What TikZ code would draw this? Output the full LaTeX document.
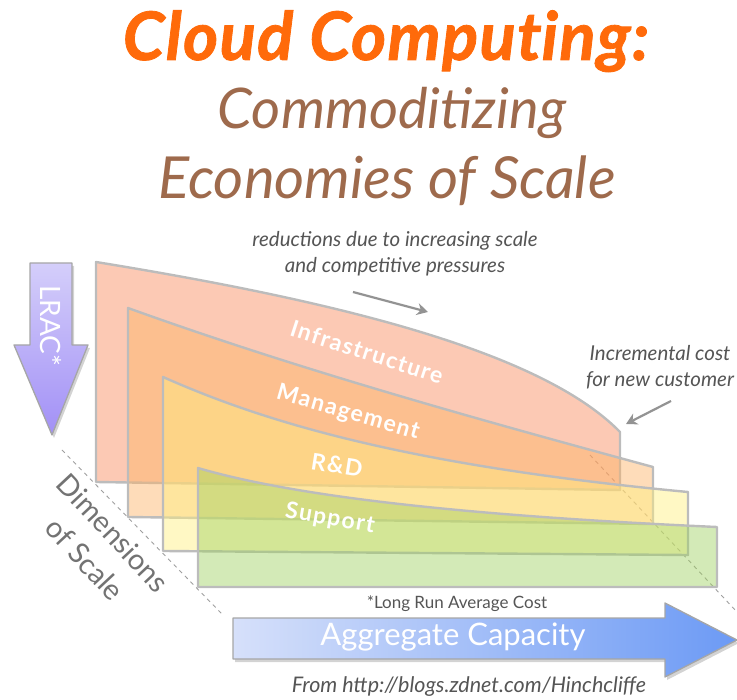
\documentclass[tikz,border=0pt]{standalone}
\usepackage{fontspec}
\setmainfont{Lato}
\usetikzlibrary{shadows,arrows.meta}
\definecolor{infraC}{RGB}{249,136,88}
\definecolor{mgmtC}{RGB}{253,178,100}
\definecolor{rdC}{RGB}{255,240,125}
\definecolor{suppC}{RGB}{158,208,95}
\definecolor{edgeC}{RGB}{188,188,188}
\definecolor{titleC}{RGB}{255,106,10}
\definecolor{subC}{RGB}{158,106,76}
\definecolor{annC}{RGB}{85,85,85}
\definecolor{dimC}{RGB}{115,115,115}
\begin{document}
\begin{tikzpicture}[x=1pt,y=-1pt,
  layer/.style={draw=edgeC,line width=2.4pt,line join=round,fill opacity=0.45},
  lbl/.style={text=white,font=\fontsize{23}{25}\selectfont\bfseries\addfontfeatures{LetterSpace=6}},
  ann/.style={text=annC,font=\fontsize{20.5}{26}\selectfont\itshape,align=center},
  annarrow/.style={draw=gray!85,line width=2.2pt,-{Stealth[length=11pt,width=12pt]}},
  dimline/.style={draw=gray!75,line width=0.9pt,dash pattern=on 4pt off 4pt},
  bigarrow/.style={draw=gray!70,line width=1.3pt,line join=round,
    drop shadow={opacity=0.35,shadow xshift=2pt,shadow yshift=-3pt}}
]
\useasboundingbox (0,0) rectangle (737,700);

% title
\node[anchor=base,text=titleC,font=\fontsize{67}{67}\selectfont\bfseries\itshape\addfontfeatures{FakeBold=1.2,LetterSpace=2}] (t1) at (386,60) {Cloud Comput\kern0pt ing:};
\node[anchor=base,text=subC,font=\fontsize{56}{56}\selectfont\itshape] (t2) at (392,129) {Commoditizing};
\node[anchor=base,text=subC,font=\fontsize{58}{58}\selectfont\itshape] (t3) at (387,199) {Economies of Scale};

% dashed dimension lines
\coordinate (dl1) at (62,450);
\coordinate (dl2) at (222,614);
\coordinate (dr1) at (590,455);
\coordinate (dr2) at (737,612);
\draw[dimline] (dl1) -- (dl2);
\draw[dimline] (dr1) -- (dr2);

% layers
\path[layer,fill=infraC] (96,262) .. controls (330,300) and (540,350) .. (620,432) -- (620,490) -- (96,482) -- cycle;
\path[layer,fill=mgmtC] (128,308) .. controls (300,370) and (480,420) .. (653,467) -- (653,524) -- (128,517) -- cycle;
\path[layer,fill=rdC] (163,377) .. controls (260,420) and (400,465) .. (688,492) -- (688,555) -- (163,551) -- cycle;
\path[layer,fill=suppC] (198,468) .. controls (290,495) and (450,515) .. (717,527) -- (717,587) -- (198,587) -- cycle;

% layer labels
\node[lbl,rotate=-18] (infraL) at (367,352) {Infrastructure};
\node[lbl,rotate=-16] (mgmtL) at (348,413) {Management};
\node[lbl,rotate=-9] (rdL) at (337,465) {R\&D};
\node[lbl,rotate=-10] (suppL) at (330,519) {Support};

% LRAC arrow
\path[bigarrow,top color={rgb,255:red,212;green,206;blue,250},bottom color={rgb,255:red,162;green,144;blue,246}]
  (30,263) -- (72,263) -- (72,345) -- (88,345) -- (52,435) -- (14,345) -- (30,345) -- cycle;
\node[text=white,rotate=-90,font=\fontsize{28}{28}\selectfont] (lrac) at (51,326) {LRAC*};

% dimensions of scale
\node[text=dimC,rotate=-47,align=center,font=\fontsize{29}{39}\selectfont] (dims) at (99,546) {Dimensions\\of Scale};

% aggregate capacity arrow
\path[bigarrow,left color={rgb,255:red,214;green,224;blue,250},right color={rgb,255:red,108;green,154;blue,245}]
  (233,618) -- (665,618) -- (665,603) -- (737,640) -- (665,677) -- (665,659) -- (233,659) -- cycle;
\node[text=white,font=\fontsize{31}{31}\selectfont] (agg) at (453,637) {Aggregate Capacity};

% footnotes
\node[text=annC,font=\fontsize{17}{17}\selectfont] (lrc) at (457,604) {*Long Run Average Cost};
\node[text=annC,font=\fontsize{21.5}{21.5}\selectfont\itshape] (src) at (469,687) {From http://blogs.zdnet.com/Hinchcliffe};

% annotations
\node[ann] (red) at (395,254) {reductions due to increasing scale\\and competitive pressures};
\node[ann] (inc) at (660,367) {Incremental cost\\for new customer};
\coordinate (redA) at (353,292);
\coordinate (redB) at (428,312);
\coordinate (incA) at (671,401);
\coordinate (incB) at (626,424);
\draw[annarrow] (redA) -- (redB);
\draw[annarrow] (incA) -- (incB);
\end{tikzpicture}
\end{document}
